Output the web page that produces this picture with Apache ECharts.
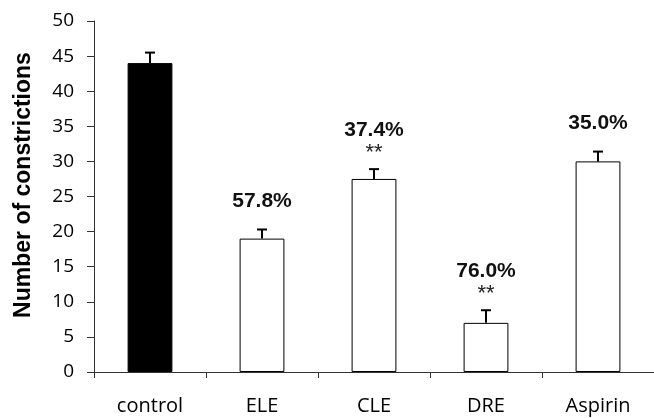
<!DOCTYPE html>
<html>
<head>
<meta charset="utf-8">
<script src="https://cdn.jsdelivr.net/npm/echarts@6/dist/echarts.min.js"></script>
<style>
html,body{margin:0;padding:0;background:#fff;}
#chart{width:654px;height:418px;}
</style>
</head>
<body>
<div id="chart"></div>
<script>
const categories = ['control', 'ELE', 'CLE', 'DRE', 'Aspirin'];
const means = [44, 19, 27.5, 7, 30];
const errors = [1.5, 1.3, 1.4, 1.8, 1.4];
const inhibition = ['', '57.8%', '37.4%', '76.0%', '35.0%'];
const significance = ['', '', '**', '**', ''];
const barColors = ['#000000', '#ffffff', '#ffffff', '#ffffff', '#ffffff'];
const yTicks = [0, 50, 5]; // min, max, interval

const chart = echarts.init(document.getElementById('chart'), null, {renderer: 'canvas'});

const option = {
  animation: false,
  backgroundColor: '#ffffff',
  grid: {left: 94, top: 21, width: 561, height: 351, containLabel: false},
  xAxis: {
    type: 'category',
    data: categories,
    axisLine: {lineStyle: {color: '#333', width: 1}},
    axisTick: {show: true, length: 6, lineStyle: {color: '#333'}},
    axisLabel: {color: '#000', fontSize: 20, fontFamily: '"Open Sans"', margin: 24}
  },
  yAxis: {
    type: 'value',
    min: yTicks[0], max: yTicks[1], interval: yTicks[2],
    splitLine: {show: false},
    axisLine: {show: true, lineStyle: {color: '#333', width: 1}},
    axisTick: {show: true, length: 7, lineStyle: {color: '#333'}},
    axisLabel: {color: '#000', fontSize: 19, fontFamily: '"Open Sans"', margin: 20}
  },
  graphic: [{
    type: 'text',
    x: 24, y: 185,
    rotation: Math.PI / 2,
    style: {
      text: 'Number of constrictions',
      align: 'center', verticalAlign: 'middle',
      fontSize: 23, fontWeight: 'bold', fontFamily: '"Liberation Sans", Arial',
      fill: '#000'
    }
  }],
  series: [
    {
      type: 'bar',
      barWidth: '40%',
      data: means.map((v, i) => ({
        value: v,
        itemStyle: {color: barColors[i], borderColor: '#000', borderWidth: 1}
      }))
    },
    {
      type: 'custom',
      z: 5,
      data: means.map((v, i) => [i, v, errors[i]]),
      renderItem: function (params, api) {
        const i = params.dataIndex;
        const base = api.coord([api.value(0), api.value(1)]);
        const top = api.coord([api.value(0), api.value(1) + api.value(2)]);
        const children = [
          {type: 'line', shape: {x1: base[0], y1: base[1], x2: top[0], y2: top[1]},
           style: {stroke: '#000', lineWidth: 2}},
          {type: 'line', shape: {x1: top[0] - 5, y1: top[1], x2: top[0] + 5, y2: top[1]},
           style: {stroke: '#000', lineWidth: 2}}
        ];
        const sig = significance[i];
        const pct = inhibition[i];
        if (sig) {
          children.push({type: 'text', style: {text: sig, x: top[0], y: top[1] - 16,
            align: 'center', verticalAlign: 'middle', fontSize: 22,
            fontFamily: '"Liberation Sans", Arial', fill: '#222'}});
        }
        if (pct) {
          children.push({type: 'text', style: {text: pct, x: top[0], y: top[1] - (sig ? 39 : 28),
            align: 'center', verticalAlign: 'middle', fontSize: 21, fontWeight: 'bold',
            fontFamily: '"Liberation Sans", Arial', fill: '#111'}});
        }
        return {type: 'group', children: children};
      }
    }
  ]
};
chart.setOption(option);
</script>
</body>
</html>
